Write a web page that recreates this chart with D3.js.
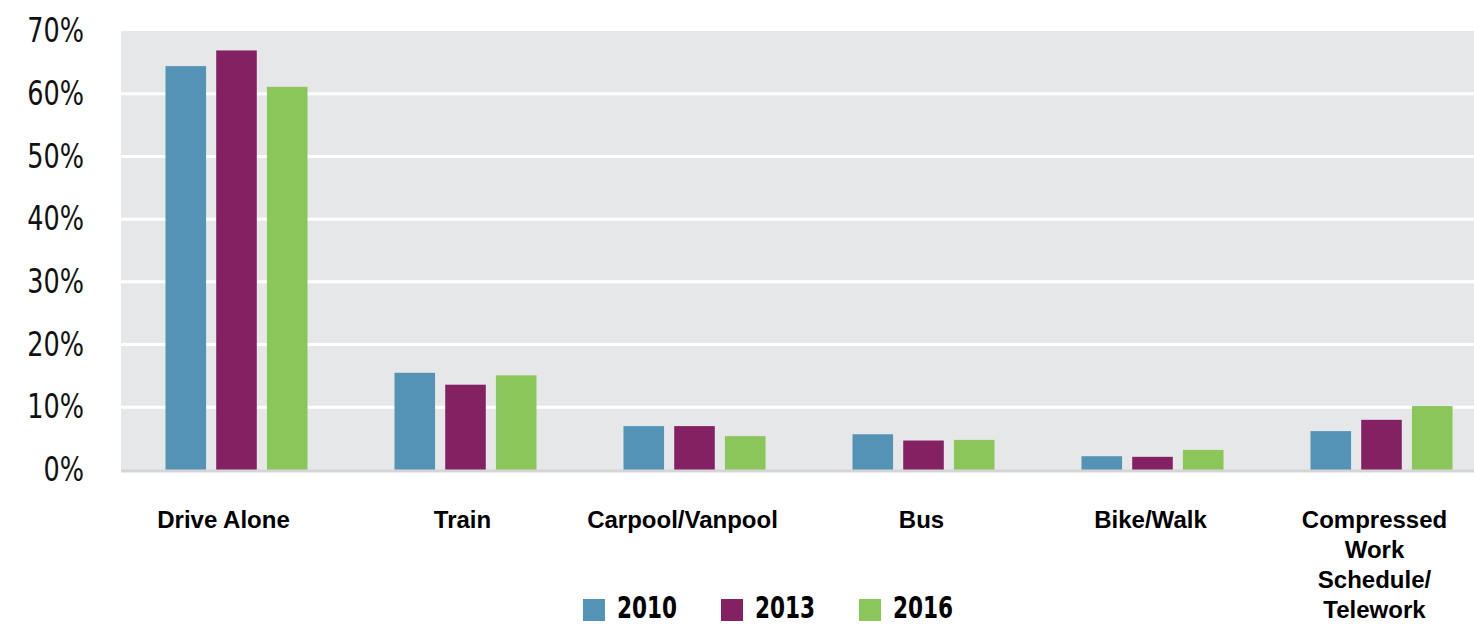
<!DOCTYPE html>
<html>
<head>
<meta charset="utf-8">
<script src="https://cdn.jsdelivr.net/npm/d3@7"></script>
<style>
body { margin:0; background:#fff; }
.y-axis text { font-family:"DejaVu Sans",sans-serif; font-stretch:condensed; font-size:33px; fill:#111; }
.x-label { font-family:"Liberation Sans",Arial,sans-serif; font-weight:bold; font-size:24px; fill:#000; }
.legend text { font-family:"DejaVu Sans",sans-serif; font-stretch:condensed; font-weight:bold; font-size:30px; fill:#000; }
</style>
</head>
<body>
<div class="visualisation"></div>
<script>
//DATA
var categories = ["Drive Alone", "Train", "Carpool/Vanpool", "Bus", "Bike/Walk", "Compressed Work Schedule/ Telework"];
var years = ["2010", "2013", "2016"];
var values2010 = [64.4, 15.5, 7.0, 5.7, 2.2, 6.2];
var values2013 = [66.9, 13.6, 7.0, 4.7, 2.1, 8.0];
var values2016 = [61.1, 15.1, 5.4, 4.8, 3.2, 10.2];
var yTicks = [0, 10, 20, 30, 40, 50, 60, 70];
var colours = ["#5593b6", "#832163", "#8bc65a"];

var labelLines = [["Drive Alone"], ["Train"], ["Carpool/Vanpool"], ["Bus"], ["Bike/Walk"],
	["Compressed", "Work", "Schedule/", "Telework"]];
var labelShift = [-13, -3, -12, -2, -2, -7];

var series = [values2010, values2013, values2016];

//CANVAS
var W = 1474, H = 626;
var svg = d3.select(".visualisation").append("svg")
	.attr("width", W).attr("height", H);

var plot = {left:121, top:31, bottom:470, right:W};

//SCALES
var x0 = d3.scaleBand().domain(categories).range([122, 1496]);
var x1 = d3.scaleBand().domain(years).range([0, 142]).paddingInner(0.2);
var y = d3.scaleLinear().domain([0, 70]).range([plot.bottom, plot.top]);

//BACKGROUND
svg.append("rect")
	.attr("x", plot.left).attr("y", plot.top)
	.attr("width", plot.right - plot.left).attr("height", plot.bottom - plot.top)
	.attr("fill", "#e6e7e8");

//GRID
svg.append("g").selectAll("line")
	.data(yTicks.filter(function(d){ return d > 0 && d < 70; }))
	.enter().append("line")
	.attr("x1", plot.left).attr("x2", plot.right)
	.attr("y1", function(d){ return y(d); }).attr("y2", function(d){ return y(d); })
	.attr("stroke", "#ffffff").attr("stroke-width", 3);

//Y AXIS
var yAxis = svg.append("g")
	.attr("class", "y-axis")
	.attr("transform", "translate(84,0)")
	.call(d3.axisLeft(y).tickValues(yTicks).tickSize(0).tickPadding(0).tickFormat(function(d){ return d + "%"; }));
yAxis.select(".domain").remove();
// squeeze the labels a bit, the original face is condensed
yAxis.selectAll("text").attr("transform", "scale(0.86,1)");

//BARS
var groups = svg.append("g").selectAll("g")
	.data(categories).enter().append("g")
	.attr("transform", function(d){ return "translate(" + (x0(d) + x0.bandwidth()/2 - 71) + ",0)"; });

groups.selectAll("rect")
	.data(function(d, i){ return years.map(function(yr, j){ return {year:yr, value:series[j][i], c:colours[j]}; }); })
	.enter().append("rect")
	.attr("x", function(d){ return x1(d.year); })
	.attr("width", x1.bandwidth())
	.attr("y", function(d){ return y(d.value); })
	.attr("height", function(d){ return y(0) - y(d.value); })
	.attr("fill", function(d){ return d.c; });

//BASELINE
svg.append("line")
	.attr("x1", plot.left).attr("x2", plot.right)
	.attr("y1", y(0) + 1).attr("y2", y(0) + 1)
	.attr("stroke", "#d5d5d5").attr("stroke-width", 3);

//X LABELS
var xl = svg.append("g").selectAll("text")
	.data(categories).enter().append("text")
	.attr("class", "x-label")
	.attr("text-anchor", "middle")
	.attr("x", function(d, i){ return x0(d) + x0.bandwidth()/2 + labelShift[i]; })
	.attr("y", 528);
xl.selectAll("tspan")
	.data(function(d, i){ return labelLines[i]; })
	.enter().append("tspan")
	.attr("x", function(){ var p = d3.select(this.parentNode); return p.attr("x"); })
	.attr("dy", function(d, i){ return i === 0 ? 0 : 30; })
	.text(function(d){ return d; });

//LEGEND
var legend = svg.append("g").attr("class", "legend")
	.selectAll("g").data(years).enter().append("g")
	.attr("transform", function(d, i){ return "translate(" + (583 + i*138) + ",599)"; });
legend.append("rect").attr("width", 22).attr("height", 22)
	.attr("fill", function(d, i){ return colours[i]; });
legend.append("text")
	.attr("transform", "translate(34,19) scale(0.8,1)")
	.text(function(d){ return d; });
</script>
</body>
</html>
